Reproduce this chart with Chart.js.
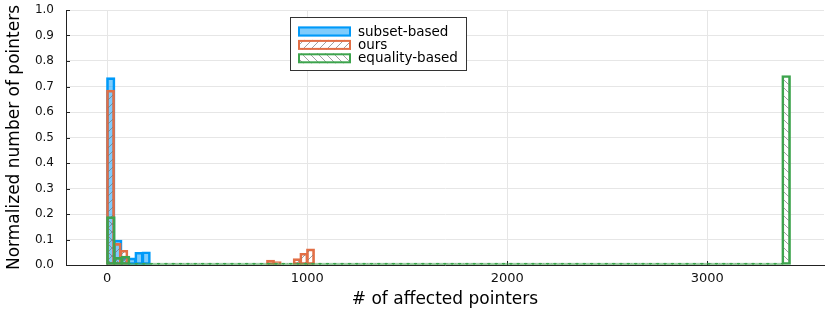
<!DOCTYPE html>
<html>
<head>
<meta charset="utf-8">
<script src="https://cdn.jsdelivr.net/npm/chart.js@4/dist/chart.umd.min.js"></script>
<style>
html,body{margin:0;padding:0;background:#fff;}
#wrap{width:825px;height:314px;position:relative;}
</style>
</head>
<body>
<div id="wrap"><canvas id="c" width="825" height="314"></canvas></div>
<script>
// ---------------- data ----------------
const seriesNames = ['subset-based', 'ours', 'equality-based'];
const xTickValues = [0, 1000, 2000, 3000];
const yTickValues = [0.0, 0.1, 0.2, 0.3, 0.4, 0.5, 0.6, 0.7, 0.8, 0.9, 1.0];
const xTitle = '# of affected pointers';
const yTitle = 'Normalized number of pointers';

// subset-based: consecutive bins starting at 0
const subsetBinWidth = 35.4;
const subsetValues = [0.735, 0.098, 0.030, 0.028, 0.050, 0.052];

// ours: bin index -> value
const oursBinWidth = 33.33;
const oursBinIndex = [0, 1, 2, 24, 25, 28, 29, 30];
const oursValues = [0.686, 0.085, 0.058, 0.019, 0.013, 0.025, 0.046, 0.063];

// equality-based: consecutive bins starting at 0
const equalityBinWidth = 36.7;
const equalityValues = [
  0.190, 0.030, 0.035, 0, 0, 0, 0, 0, 0, 0,
  0, 0, 0, 0, 0, 0, 0, 0, 0, 0,
  0, 0, 0, 0, 0, 0, 0, 0, 0, 0,
  0, 0, 0, 0, 0, 0, 0, 0, 0, 0,
  0, 0, 0, 0, 0, 0, 0, 0, 0, 0,
  0, 0, 0, 0, 0, 0, 0, 0, 0, 0,
  0, 0, 0, 0, 0, 0, 0, 0, 0, 0,
  0, 0, 0, 0, 0, 0, 0, 0, 0, 0,
  0, 0, 0, 0, 0, 0, 0, 0, 0, 0,
  0, 0, 0.743
];

// ---------------- styles ----------------
const FONT = "'DejaVu Sans', sans-serif";
const blue = '#009AF9', orange = '#E26F46', green = '#3DA44D';

function hatch(dir) {
  const s = 8;
  const c = document.createElement('canvas');
  c.width = s; c.height = s;
  const g = c.getContext('2d');
  g.strokeStyle = 'rgba(120,120,120,0.7)';
  g.lineWidth = 1;
  g.beginPath();
  if (dir === '/') {
    g.moveTo(-1, s + 1); g.lineTo(s + 1, -1);
    g.moveTo(-1, 1); g.lineTo(1, -1);
    g.moveTo(s - 1, s + 1); g.lineTo(s + 1, s - 1);
  } else {
    g.moveTo(-1, -1); g.lineTo(s + 1, s + 1);
    g.moveTo(s - 1, -1); g.lineTo(s + 1, 1);
    g.moveTo(-1, s - 1); g.lineTo(1, s + 1);
  }
  g.stroke();
  return document.getElementById('c').getContext('2d').createPattern(c, 'repeat');
}
const oursFill = hatch('/');
const equalityFill = hatch('\\');
const subsetFill = 'rgba(0,154,249,0.5)';

function consecutive(values, w) {
  return values.map((v, i) => ({ x: (i + 0.5) * w, y: v }));
}
function indexed(idx, values, w) {
  return values.map((v, i) => ({ x: (idx[i] + 0.5) * w, y: v }));
}
// bin width in pixels plus the outline that straddles the bin edges
function thickness(w) {
  return (ctx) => {
    const s = ctx.chart.scales.x;
    return Math.abs(s.getPixelForValue(w) - s.getPixelForValue(0)) + 1.5;
  };
}

const datasets = [
  {
    label: seriesNames[0],
    data: consecutive(subsetValues, subsetBinWidth),
    backgroundColor: subsetFill, borderColor: blue, borderWidth: 2,
    borderSkipped: false, grouped: false, order: 3,
    barThickness: thickness(subsetBinWidth)
  },
  {
    label: seriesNames[1],
    data: indexed(oursBinIndex, oursValues, oursBinWidth),
    backgroundColor: oursFill, borderColor: orange, borderWidth: 2,
    borderSkipped: false, grouped: false, order: 2,
    barThickness: thickness(oursBinWidth)
  },
  {
    label: seriesNames[2],
    data: consecutive(equalityValues, equalityBinWidth),
    backgroundColor: equalityFill, borderColor: green, borderWidth: 2,
    borderSkipped: false, grouped: false, order: 1, minBarLength: 2,
    barThickness: thickness(equalityBinWidth)
  }
];

// inward tick marks
const innerTicks = {
  id: 'innerTicks',
  beforeDatasetsDraw(chart) {
    const g = chart.ctx, a = chart.chartArea;
    const xs = chart.scales.x, ys = chart.scales.y;
    g.save();
    g.strokeStyle = '#222'; g.lineWidth = 1;
    g.beginPath();
    yTickValues.forEach(v => {
      const p = Math.round(ys.getPixelForValue(v)) + 0.5;
      g.moveTo(a.left, p); g.lineTo(a.left + 4, p);
    });
    xTickValues.forEach(v => {
      const p = Math.round(xs.getPixelForValue(v)) + 0.5;
      g.moveTo(p, a.bottom); g.lineTo(p, a.bottom - 4);
    });
    g.stroke();
    g.restore();
  }
};

// legend inside plot
const boxLegend = {
  id: 'boxLegend',
  afterDraw(chart) {
    const g = chart.ctx;
    const bx = 290.5, by = 17.5, bw = 176, bh = 53;
    g.save();
    g.fillStyle = '#fff';
    g.fillRect(bx, by, bw, bh);
    g.strokeStyle = '#333'; g.lineWidth = 1;
    g.strokeRect(bx, by, bw, bh);
    const fills = [subsetFill, oursFill, equalityFill];
    const cols = [blue, orange, green];
    g.font = '13.5px ' + FONT;
    g.textBaseline = 'middle';
    g.textAlign = 'left';
    for (let i = 0; i < 3; i++) {
      const top = 26.5 + i * 13.4;
      const sx = 298, sw = 53, sh = 10;
      g.fillStyle = '#fff';
      g.fillRect(sx, top, sw, sh);
      g.fillStyle = fills[i];
      g.fillRect(sx, top, sw, sh);
      g.strokeStyle = cols[i]; g.lineWidth = 2;
      g.strokeRect(sx + 1, top + 1, sw - 2, sh - 2);
      g.fillStyle = '#000';
      g.fillText(seriesNames[i], 358, top + sh / 2 + 0.5);
    }
    g.restore();
  }
};

new Chart(document.getElementById('c'), {
  type: 'bar',
  data: { datasets },
  options: {
    responsive: false,
    animation: false,
    layout: { padding: { top: 10, right: 1, left: 0, bottom: 0 } },
    plugins: { legend: { display: false }, tooltip: { enabled: false } },
    scales: {
      x: {
        type: 'linear', min: -206, max: 3584, offset: false,
        afterBuildTicks: s => { s.ticks = xTickValues.map(v => ({ value: v })); },
        afterFit: s => { s.height = 49; s.paddingLeft = 0; s.paddingRight = 0; },
        grid: { color: '#e6e6e6', drawTicks: false, offset: false },
        border: { color: '#222', width: 1 },
        ticks: { color: '#111', font: { family: FONT, size: 13 }, padding: 6, maxRotation: 0,
                 callback: v => String(v) },
        title: { display: true, text: xTitle, color: '#000', font: { family: FONT, size: 17 },
                 padding: { top: 4, bottom: 4 } }
      },
      y: {
        type: 'linear', min: 0, max: 1, offset: false,
        afterBuildTicks: s => { s.ticks = yTickValues.map(v => ({ value: v })); },
        afterFit: s => { s.width = 66; s.paddingTop = 0; s.paddingBottom = 0; },
        grid: { color: '#e6e6e6', drawTicks: false, offset: false },
        border: { color: '#222', width: 1 },
        ticks: { color: '#111', font: { family: FONT, size: 12 }, padding: 12,
                 callback: v => Number(v).toFixed(1) },
        title: { display: true, text: yTitle, color: '#000', font: { family: FONT, size: 17 },
                 padding: { top: 4, bottom: 4 } }
      }
    }
  },
  plugins: [innerTicks, boxLegend]
});
</script>
</body>
</html>
